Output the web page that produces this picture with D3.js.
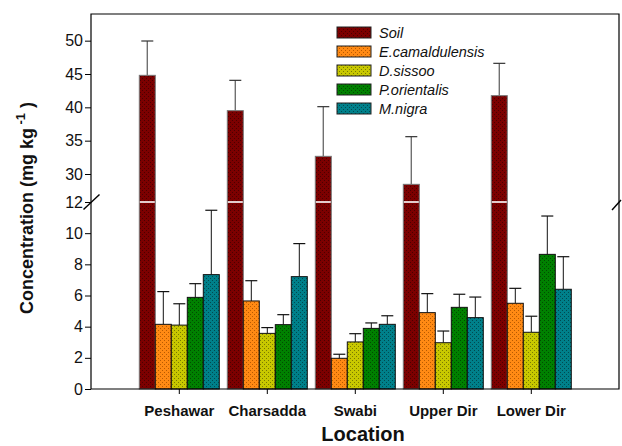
<!DOCTYPE html>
<html>
<head>
<meta charset="utf-8">
<script src="https://cdn.jsdelivr.net/npm/d3@7"></script>
<style>
  body { margin: 0; background: #fff; }
  text { font-family: "Liberation Sans", Arial, sans-serif; }
</style>
</head>
<body>
<div id="chart"></div>
<script>
// Data
var locations = ["Peshawar", "Charsadda", "Swabi", "Upper Dir", "Lower Dir"];
var seriesNames = ["Soil", "E.camaldulensis", "D.sissoo", "P.orientalis", "M.nigra"];

var soil = [44.8, 39.5, 32.65, 28.45, 41.75];
var soilErr = [5.15, 4.55, 7.45, 7.15, 4.85];
var eCam = [4.15, 5.65, 1.97, 4.9, 5.5];
var eCamErr = [2.1, 1.3, 0.26, 1.22, 0.96];
var dSis = [4.1, 3.57, 3.02, 2.97, 3.64];
var dSisErr = [1.37, 0.37, 0.53, 0.75, 1.03];
var pOri = [5.88, 4.13, 3.89, 5.24, 8.64];
var pOriErr = [0.88, 0.64, 0.35, 0.84, 2.46];
var mNig = [7.34, 7.21, 4.15, 4.58, 6.4];
var mNigErr = [4.13, 2.12, 0.55, 1.32, 2.09];

var lowTicks = [0, 2, 4, 6, 8, 10, 12];
var highTicks = [30, 35, 40, 45, 50];

var seriesValues = [soil, eCam, dSis, pOri, mNig];
var seriesErrors = [soilErr, eCamErr, dSisErr, pOriErr, mNigErr];

// Set up space
var svgWidth = 622;
var svgHeight = 446;
var plotLeft = 91, plotRight = 619, plotTop = 14, plotBottom = 389, breakY = 202;

var svg = d3.select("#chart")
  .append("svg")
  .attr("width", svgWidth)
  .attr("height", svgHeight);

// Fill patterns (dotted texture)
var fills = [
  {id: "p0", base: "#7c0000", dot: "#4a0000"},
  {id: "p1", base: "#ff8a14", dot: "#b85a00"},
  {id: "p2", base: "#c8c800", dot: "#7a7a00"},
  {id: "p3", base: "#008000", dot: "#004c00"},
  {id: "p4", base: "#00808a", dot: "#004a50"}
];
var defs = svg.append("defs");
fills.forEach(function(f) {
  var p = defs.append("pattern")
    .attr("id", f.id)
    .attr("patternUnits", "userSpaceOnUse")
    .attr("width", 4).attr("height", 4);
  p.append("rect").attr("width", 4).attr("height", 4).attr("fill", f.base);
  p.append("rect").attr("x", 0).attr("y", 0).attr("width", 1).attr("height", 1).attr("fill", f.dot);
  p.append("rect").attr("x", 2).attr("y", 2).attr("width", 1).attr("height", 1).attr("fill", f.dot);
});

// Scales
var x0 = d3.scaleBand()
  .domain(locations)
  .range([135.3, 575.3])
  .paddingInner(8 / 88)
  .paddingOuter(4 / 88);

var x1 = d3.scaleBand()
  .domain(seriesNames)
  .range([0, x0.bandwidth()]);

var yLow = d3.scaleLinear().domain([0, 12]).range([plotBottom, breakY]);
var yHigh = d3.scaleLinear().domain([25.8, 54]).range([breakY, plotTop]);
function yPos(v) { return v <= 12 ? yLow(v) : yHigh(v); }

// Flatten for drawing
var data = [];
locations.forEach(function(loc, i) {
  seriesNames.forEach(function(s, j) {
    data.push({loc: loc, series: s, j: j, value: seriesValues[j][i], err: seriesErrors[j][i]});
  });
});

function cx(d) { return x0(d.loc) + x1(d.series) + x1.bandwidth() / 2; }

// Error bars (drawn first so the bar covers the stem)
var errGroup = svg.append("g");
errGroup.selectAll("line.stem")
  .data(data)
  .enter()
  .append("line")
    .attr("class", "stem")
    .attr("x1", cx)
    .attr("x2", cx)
    .attr("y1", d => yPos(d.value))
    .attr("y2", d => yPos(d.value + d.err))
    .attr("stroke", d => d.j == 0 ? "#707070" : "#111")
    .attr("stroke-width", d => d.j == 0 ? 1.4 : 1);
errGroup.selectAll("line.cap")
  .data(data)
  .enter()
  .append("line")
    .attr("class", "cap")
    .attr("x1", d => cx(d) - 6)
    .attr("x2", d => cx(d) + 6)
    .attr("y1", d => yPos(d.value + d.err))
    .attr("y2", d => yPos(d.value + d.err))
    .attr("stroke", d => d.j == 0 ? "#333" : "#111")
    .attr("stroke-width", 1.2);

// Bars
svg.append("g").selectAll("rect")
  .data(data)
  .enter()
  .append("rect")
    .attr("x", d => x0(d.loc) + x1(d.series))
    .attr("width", x1.bandwidth())
    .attr("y", d => yPos(d.value))
    .attr("height", d => plotBottom - yPos(d.value))
    .attr("fill", d => "url(#p" + d.j + ")")
    .attr("stroke", d => d.j == 0 ? "#777" : "#111")
    .attr("stroke-width", 1);

// White break line across the soil bars
svg.append("g").selectAll("line")
  .data(locations)
  .enter()
  .append("line")
    .attr("x1", d => x0(d) + x1("Soil") + 0.5)
    .attr("x2", d => x0(d) + x1("Soil") + x1.bandwidth() - 0.5)
    .attr("y1", breakY)
    .attr("y2", breakY)
    .attr("stroke", "#fff")
    .attr("stroke-width", 1.6);

// Frame
svg.append("path")
  .attr("d", `M${plotLeft},${plotBottom}V${plotTop}H${plotRight}V${plotBottom}H${plotLeft}`)
  .attr("fill", "none")
  .attr("stroke", "#000")
  .attr("stroke-width", 1.2);

// Axes
var lowAxis = d3.axisLeft(yLow).tickValues(lowTicks).tickSize(6).tickSizeOuter(0);
var highAxis = d3.axisLeft(yHigh).tickValues(highTicks).tickSize(6).tickSizeOuter(0);
[lowAxis, highAxis].forEach(function(ax) {
  var g = svg.append("g")
    .attr("transform", `translate(${plotLeft}, 0)`)
    .call(ax);
  g.select(".domain").remove();
  g.selectAll("text")
    .attr("font-size", 16)
    .attr("fill", "#111")
    .attr("x", -8)
    .attr("font-family", "'Liberation Sans', Arial, sans-serif");
  g.selectAll("line").attr("stroke", "#000");
});

var xAxis = svg.append("g")
  .attr("transform", `translate(0, ${plotBottom})`)
  .call(d3.axisBottom(x0).tickSize(5).tickSizeOuter(0));
xAxis.select(".domain").remove();
xAxis.selectAll("text")
  .attr("font-size", 15)
  .attr("font-weight", "bold")
  .attr("fill", "#111")
  .attr("dy", null)
  .attr("y", 27)
  .attr("font-family", "'Liberation Sans', Arial, sans-serif");

// Break marks
svg.append("line")
  .attr("x1", 83.5).attr("y1", 209.5).attr("x2", 99.5).attr("y2", 194.5)
  .attr("stroke", "#000").attr("stroke-width", 1.4);
svg.append("line")
  .attr("x1", 612).attr("y1", 210).attr("x2", 621).attr("y2", 200)
  .attr("stroke", "#000").attr("stroke-width", 1.4);

// Legend
var legend = svg.append("g").attr("transform", "translate(337, 27)");
var legendRow = legend.selectAll("g")
  .data(seriesNames)
  .enter()
  .append("g")
    .attr("transform", (d, i) => `translate(0, ${i * 19})`);
legendRow.append("rect")
  .attr("width", 34)
  .attr("height", 11)
  .attr("fill", (d, i) => "url(#p" + i + ")")
  .attr("stroke", "#222")
  .attr("stroke-width", 1);
legendRow.append("text")
  .attr("x", 42)
  .attr("y", 10.5)
  .attr("font-size", 14.5)
  .attr("font-style", "italic")
  .attr("fill", "#111")
  .text(d => d);

// Labels
svg.append("text")
  .attr("x", 363)
  .attr("y", 441)
  .attr("text-anchor", "middle")
  .attr("font-size", 20)
  .attr("font-weight", "bold")
  .attr("fill", "#111")
  .text("Location");

var yTitle = svg.append("text")
  .attr("transform", "translate(33, 208) rotate(-90)")
  .attr("text-anchor", "middle")
  .attr("font-size", 18)
  .attr("font-weight", "bold")
  .attr("fill", "#111");
yTitle.append("tspan").text("Concentration (mg kg");
yTitle.append("tspan").attr("dy", -8).attr("font-size", 13).text(" -1");
yTitle.append("tspan").attr("dy", 8).text(" )");
</script>
</body>
</html>
